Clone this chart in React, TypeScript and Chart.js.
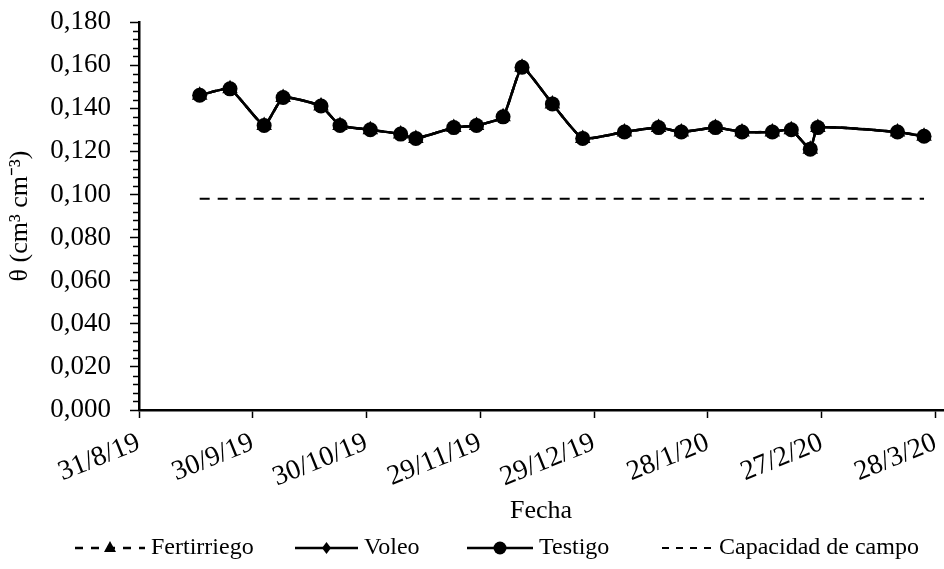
import React, { useEffect, useRef } from 'react';
import { Chart, registerables } from 'chart.js';
Chart.register(...registerables);

const sampleDates = [
  '2019-09-16', '2019-09-24', '2019-10-03', '2019-10-08', '2019-10-18', '2019-10-23',
  '2019-10-31', '2019-11-08', '2019-11-12', '2019-11-22', '2019-11-28', '2019-12-05',
  '2019-12-10', '2019-12-18', '2019-12-26', '2020-01-06', '2020-01-15', '2020-01-21',
  '2020-01-30', '2020-02-06', '2020-02-14', '2020-02-19', '2020-02-24', '2020-02-26',
  '2020-03-18', '2020-03-25',
];
const fertirriego = [
  0.146, 0.149, 0.132, 0.145, 0.141, 0.132, 0.130, 0.128, 0.126, 0.131, 0.132, 0.136,
  0.159, 0.142, 0.126, 0.129, 0.131, 0.129, 0.131, 0.129, 0.129, 0.130, 0.121, 0.131,
  0.129, 0.127,
];
const voleo = [
  0.146, 0.149, 0.132, 0.145, 0.141, 0.132, 0.130, 0.128, 0.126, 0.131, 0.132, 0.136,
  0.159, 0.142, 0.126, 0.129, 0.131, 0.129, 0.131, 0.129, 0.129, 0.130, 0.121, 0.131,
  0.129, 0.127,
];
const testigo = [
  0.146, 0.149, 0.132, 0.145, 0.141, 0.132, 0.130, 0.128, 0.126, 0.131, 0.132, 0.136,
  0.159, 0.142, 0.126, 0.129, 0.131, 0.129, 0.131, 0.129, 0.129, 0.130, 0.121, 0.131,
  0.129, 0.127,
];
const capacidadCampo = 0.098;
const xTickLabels = ['31/8/19', '30/9/19', '30/10/19', '29/11/19', '29/12/19', '28/1/20', '27/2/20', '28/3/20'];
const seriesNames = ['Fertirriego', 'Voleo', 'Testigo', 'Capacidad de campo'];
const yTitle = 'θ (cm³ cm⁻³)';
const xTitle = 'Fecha';

const ORIGIN = Date.UTC(2019, 7, 31);
const toDay = (s: string) => {
  const [y, m, d] = s.split('-').map(Number);
  return Math.round((Date.UTC(y, m - 1, d) - ORIGIN) / 86400000);
};

const FONT = "'Liberation Serif', 'Times New Roman', serif";

const minorTicks = {
  id: 'minorTicks',
  afterDraw(chart: any) {
    const ys = chart.scales.y;
    const ctx = chart.ctx;
    const x = chart.chartArea.left;
    ctx.save();
    ctx.strokeStyle = '#000';
    ctx.lineWidth = 1.5;
    for (let i = 1; i < 45; i++) {
      if (i % 5 === 0) continue;
      const py = Math.round(ys.getPixelForValue(i * 0.004)) + 0.5;
      ctx.beginPath();
      ctx.moveTo(x - 6, py);
      ctx.lineTo(x, py);
      ctx.stroke();
    }
    ctx.restore();
  },
};

const legendPlugin = {
  id: 'customLegend',
  afterDraw(chart: any) {
    const ctx = chart.ctx;
    const y = 548;
    ctx.save();
    ctx.strokeStyle = '#000';
    ctx.fillStyle = '#000';
    const items = [
      { x0: 75, x1: 145, dash: [8, 8], marker: 'triangle', text: seriesNames[0] },
      { x0: 295, x1: 358, dash: [], marker: 'diamond', text: seriesNames[1] },
      { x0: 467, x1: 533, dash: [], marker: 'circle', text: seriesNames[2] },
      { x0: 662, x1: 713, dash: [7, 7], marker: '', text: seriesNames[3] },
    ];
    ctx.font = `24px ${FONT}`;
    ctx.textBaseline = 'middle';
    ctx.textAlign = 'left';
    for (const it of items) {
      ctx.lineWidth = it.marker ? 2.5 : 2;
      ctx.setLineDash(it.dash);
      ctx.beginPath();
      ctx.moveTo(it.x0, y);
      ctx.lineTo(it.x1, y);
      ctx.stroke();
      ctx.setLineDash([]);
      const cx = (it.x0 + it.x1) / 2;
      ctx.beginPath();
      if (it.marker === 'triangle') {
        ctx.moveTo(cx, y - 7);
        ctx.lineTo(cx + 6, y + 4);
        ctx.lineTo(cx - 6, y + 4);
        ctx.closePath();
        ctx.fill();
      } else if (it.marker === 'diamond') {
        ctx.moveTo(cx, y - 6);
        ctx.lineTo(cx + 4.5, y);
        ctx.lineTo(cx, y + 6);
        ctx.lineTo(cx - 4.5, y);
        ctx.closePath();
        ctx.fill();
      } else if (it.marker === 'circle') {
        ctx.arc(cx, y, 6.5, 0, Math.PI * 2);
        ctx.fill();
      }
      ctx.fillText(it.text, it.x1 + 6, y);
    }
    ctx.restore();
  },
};

export default function App() {
  const ref = useRef<HTMLCanvasElement>(null);
  useEffect(() => {
    if (!ref.current) return;
    const days = sampleDates.map(toDay);
    const pts = (arr: number[]) => arr.map((v, i) => ({ x: days[i], y: v }));
    const chart = new Chart(ref.current, {
      type: 'line',
      data: {
        datasets: [
          {
            label: seriesNames[2], data: pts(testigo), order: 0,
            borderColor: '#000', backgroundColor: '#000', borderWidth: 2.5,
            pointStyle: 'circle', pointRadius: 7.5, pointBorderWidth: 0, tension: 0.15,
          },
          {
            label: seriesNames[1], data: pts(voleo), order: 1,
            borderColor: '#000', backgroundColor: '#000', borderWidth: 2.5,
            pointStyle: 'rectRot', pointRadius: 7, pointBorderWidth: 0, tension: 0.15,
          },
          {
            label: seriesNames[0], data: pts(fertirriego), order: 2,
            borderColor: '#000', backgroundColor: '#000', borderWidth: 2.5, borderDash: [6, 5],
            pointStyle: 'triangle', pointRadius: 9, pointBorderWidth: 0, tension: 0.15,
          },
          {
            label: seriesNames[3],
            data: [
              { x: days[0], y: capacidadCampo },
              { x: days[days.length - 1], y: capacidadCampo },
            ],
            order: 3, borderColor: '#000', borderWidth: 2, borderDash: [10, 8], pointRadius: 0,
          },
        ],
      },
      options: {
        animation: false,
        responsive: true,
        maintainAspectRatio: false,
        layout: { autoPadding: false, padding: { top: 22, right: 1, bottom: 40, left: 0 } },
        plugins: { legend: { display: false }, tooltip: { enabled: false } },
        scales: {
          x: {
            type: 'linear',
            min: 0,
            max: 212,
            afterBuildTicks: (s: any) => {
              s.ticks = xTickLabels.map((_, i) => ({ value: i * 30 }));
            },
            afterFit: (s: any) => { s.height = 119; s.paddingRight = 0; },
            ticks: {
              stepSize: 30,
              autoSkip: false,
              minRotation: 22,
              maxRotation: 22,
              padding: 8,
              color: '#000',
              font: { family: FONT, size: 28 },
              callback: (v: any) => xTickLabels[Math.round(Number(v) / 30)] ?? '',
            },
            grid: { drawOnChartArea: false, tickLength: 8, color: '#000', tickWidth: 1.5 },
            border: { color: '#000', width: 2.5 },
            title: {
              display: true, text: xTitle, color: '#000',
              font: { family: FONT, size: 26 }, padding: { top: 0, bottom: 2 },
            },
          },
          y: {
            min: 0,
            max: 0.18,
            afterFit: (s: any) => { s.width = 139; s.paddingTop = 0; s.paddingBottom = 0; },
            ticks: {
              stepSize: 0.02,
              autoSkip: false,
              padding: 19,
              color: '#000',
              font: { family: FONT, size: 27 },
              callback: (v: any) => Number(v).toFixed(3).replace('.', ','),
            },
            grid: { drawOnChartArea: false, tickLength: 9, color: '#000', tickWidth: 1.5 },
            border: { color: '#000', width: 2.5 },
            title: {
              display: true, text: yTitle, color: '#000',
              font: { family: FONT, size: 26 }, padding: { top: 5, bottom: 0 },
            },
          },
        },
      },
      plugins: [minorTicks, legendPlugin],
    } as any);
    return () => chart.destroy();
  }, []);
  return (
    <div style={{ position: 'fixed', left: 0, top: 0, width: 944, height: 569, background: '#fff' }}>
      <canvas ref={ref} />
    </div>
  );
}
